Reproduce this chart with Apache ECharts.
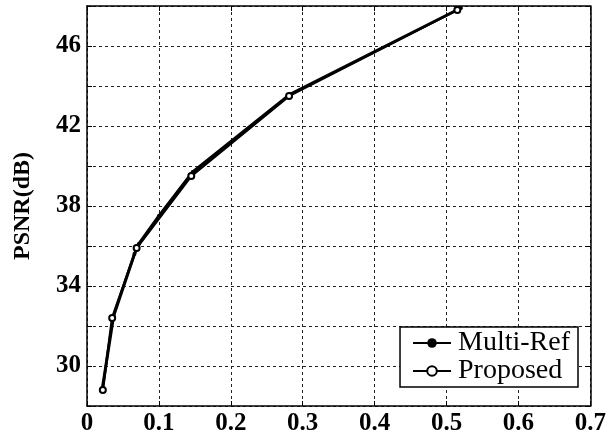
<!DOCTYPE html>
<html>
<head>
<meta charset="utf-8">
<script src="https://cdn.jsdelivr.net/npm/echarts@6/dist/echarts.min.js"></script>
<style>html,body{margin:0;padding:0;background:#fff}#c{width:609px;height:441px}</style>
</head>
<body>
<div id="c"></div>
<script>
var multiRefX = [0.021, 0.037, 0.066, 0.072, 0.10, 0.147, 0.283, 0.52];
var multiRefY = [28.8, 32.5, 35.6, 36.1, 37.5, 39.7, 43.6, 47.9];
var proposedX = [0.022, 0.035, 0.069, 0.145, 0.281, 0.515];
var proposedY = [28.8, 32.4, 35.9, 39.5, 43.5, 47.8];
var seriesNames = ['Multi-Ref', 'Proposed'];
var yLabelValues = [30, 34, 38, 42, 46];
var xLabelValues = [0, 0.1, 0.2, 0.3, 0.4, 0.5, 0.6, 0.7];

function pairs(xs, ys){ return xs.map(function(x,i){return [x, ys[i]];}); }
function fmtX(v){ return (Math.round(v*10)/10).toString(); }

var chart = echarts.init(document.getElementById('c'));
var fontFam = '"Liberation Serif","DejaVu Serif",serif';
var gridLine = {show:true, lineStyle:{color:'#222', type:[3,3], width:1}};
chart.setOption({
  animation:false,
  backgroundColor:'#fff',
  grid:{left:87, right:17, top:6, bottom:35, containLabel:false},
  legend:{
    data:seriesNames, orient:'vertical', right:31, bottom:54,
    backgroundColor:'#fff', borderColor:'#000', borderWidth:1.5,
    padding:[2,8,2,12], itemGap:0, itemWidth:38, itemHeight:12,
    textStyle:{fontFamily:fontFam, fontSize:28, lineHeight:25, color:'#000', padding:[0,0,0,2]}
  },
  xAxis:[{
    type:'value', min:0, max:0.7, interval:0.1,
    axisLine:{show:true, lineStyle:{color:'#000', width:1.5}},
    axisTick:{show:true, inside:true, length:5, lineStyle:{color:'#000'}},
    axisLabel:{formatter:function(v){return xLabelValues.some(function(x){return Math.abs(x-v)<1e-6;})?fmtX(v):'';}, fontFamily:fontFam, fontWeight:'bold', fontSize:25, color:'#000', margin:5},
    splitLine:gridLine
  },{
    type:'value', min:0, max:0.7, interval:0.1, position:'top',
    axisLine:{show:true, onZero:false, lineStyle:{color:'#000', width:1.5}},
    axisTick:{show:true, inside:true, length:5, lineStyle:{color:'#000'}},
    axisLabel:{show:false}, splitLine:{show:false}
  }],
  yAxis:[{
    type:'value', min:28, max:48, interval:2,
    name:'PSNR(dB)', nameLocation:'middle', nameGap:52, nameRotate:90,
    nameTextStyle:{fontFamily:fontFam, fontWeight:'bold', fontSize:24, color:'#000'},
    axisLine:{show:true, lineStyle:{color:'#000', width:1.5}},
    axisTick:{show:true, inside:true, length:5, lineStyle:{color:'#000'}},
    axisLabel:{formatter:function(v){return yLabelValues.indexOf(v)>=0?String(v):'';}, fontFamily:fontFam, fontWeight:'bold', fontSize:25, color:'#000', margin:6},
    splitLine:gridLine
  },{
    type:'value', min:28, max:48, interval:2, position:'right',
    axisLine:{show:true, onZero:false, lineStyle:{color:'#000', width:1.5}},
    axisTick:{show:true, inside:true, length:5, lineStyle:{color:'#000'}},
    axisLabel:{show:false}, splitLine:{show:false}
  }],
  series:[{
    name:seriesNames[0], type:'line', data:pairs(multiRefX, multiRefY),
    symbol:'circle', symbolSize:4, showAllSymbol:true,
    lineStyle:{color:'#000', width:3}, itemStyle:{color:'#000'}
  },{
    name:seriesNames[1], type:'line', data:pairs(proposedX, proposedY),
    symbol:'emptyCircle', symbolSize:6, showAllSymbol:true,
    lineStyle:{color:'#000', width:2.5}, itemStyle:{color:'#000', borderColor:'#000', borderWidth:1.5}
  }]
});
</script>
</body>
</html>
